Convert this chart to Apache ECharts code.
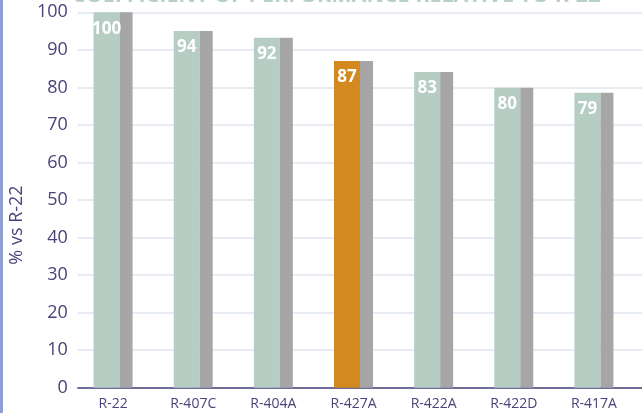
<!DOCTYPE html>
<html><head><meta charset="utf-8">
<script src="https://cdn.jsdelivr.net/npm/echarts@6/dist/echarts.min.js"></script>
<style>html,body{margin:0;padding:0;background:#fff}#c{width:642px;height:413px}</style>
</head><body><div id="c"></div>
<script>
const categories = ['R-22','R-407C','R-404A','R-427A','R-422A','R-422D','R-417A'];
const values = [100, 95, 93.2, 87, 84.1, 79.9, 78.6];
const valueLabels = ['100','94','92','87','83','80','79'];
const highlight = 'R-427A';
const yTicks = [0,10,20,30,40,50,60,70,80,90,100];
const titleText = 'COEFFICIENT OF PERFORMANCE RELATIVE TO R-22';
const yName = '% vs R-22';

const purple = '#48437a';
const font = '"Open Sans", "Noto Sans", sans-serif';
const chart = echarts.init(document.getElementById('c'), null, {renderer:'canvas'});
chart.setOption({
  animation:false,
  graphic:[
    {type:'rect', left:0, top:0, shape:{width:3, height:413}, style:{fill:'#8e9fd0'}},
    {type:'text', left:72, top:-15.5, style:{text:titleText, fill:'#b7cfc5', font:'bold 21.5px ' + font}}
  ],
  grid:[
    {left:71, right:0, top:12.3, bottom:25.3},
    {left:73, right:8, top:12.3, bottom:25.3}
  ],
  xAxis:[
    {gridIndex:0, type:'value', min:0, max:1, show:true, axisLine:{show:true, onZero:false, lineStyle:{color:purple, width:1.5}}, axisTick:{show:false}, axisLabel:{show:false}, splitLine:{show:false}},
    {gridIndex:1, type:'category', data:categories, axisLine:{show:false}, axisTick:{show:false},
     axisLabel:{color:purple, fontSize:14, fontFamily:font, margin:9}}
  ],
  yAxis:[
    {gridIndex:0, type:'value', min:0, max:100, interval:10,
     name:yName, nameLocation:'middle', nameGap:50,
     nameTextStyle:{color:purple, fontSize:18, fontFamily:font, padding:[0,50,0,0]},
     axisLine:{show:false}, axisTick:{show:false},
     axisLabel:{color:purple, fontSize:18, fontFamily:font, margin:10},
     splitLine:{lineStyle:{color:'#dfe4ef', width:1.5}}},
    {gridIndex:1, type:'value', min:0, max:100, interval:10, show:false, splitLine:{show:false}}
  ],
  series:[
    {type:'bar', xAxisIndex:1, yAxisIndex:1, barWidth:26, barGap:'0%',
     data: values.map((v,i)=>({value:v, itemStyle:{color: categories[i]===highlight ? '#d3891f' : '#b5cdc3'}})),
     label:{show:true, position:'insideTop', distance:8, color:'#fff', fontWeight:'bold', fontSize:17, fontFamily:font,
       formatter:p=>valueLabels[p.dataIndex]}},
    {type:'bar', xAxisIndex:1, yAxisIndex:1, barWidth:13, barGap:'0%',
     data: values, itemStyle:{color:'#a6a6a6'}}
  ]
});
</script></body></html>
